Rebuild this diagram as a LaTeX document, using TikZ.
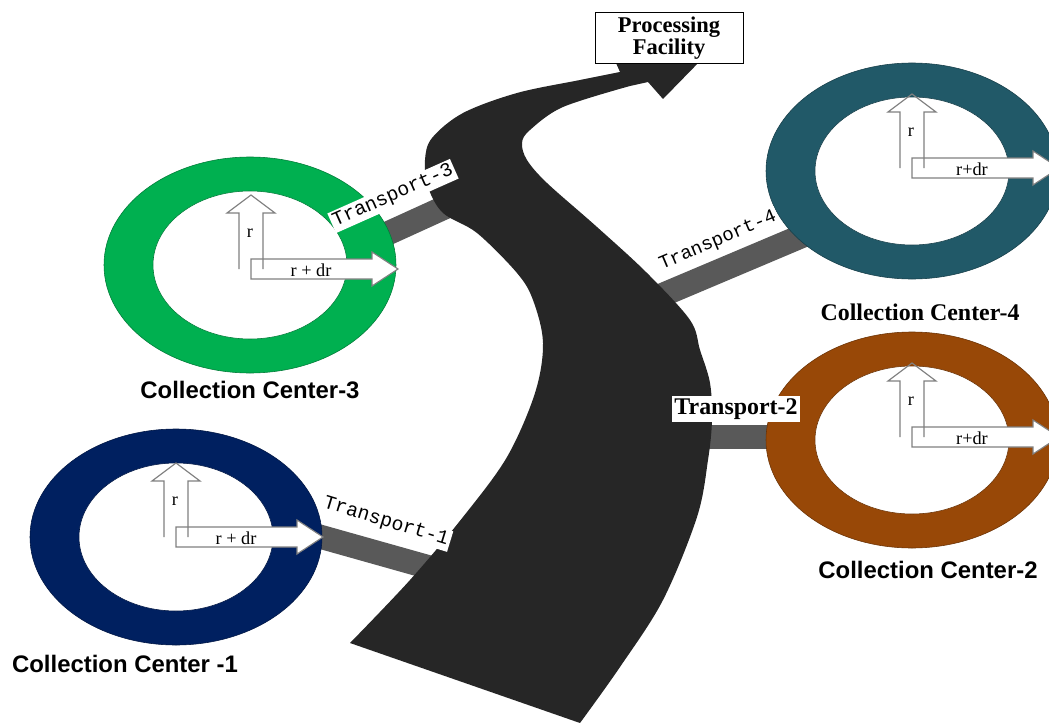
\documentclass[tikz,border=0pt]{standalone}
\usepackage{fontspec}
\setmainfont{Liberation Serif}
\setsansfont{Liberation Sans}
\setmonofont{Liberation Mono}
\usepackage{tikz}
\usetikzlibrary{positioning, shapes.geometric}

\definecolor{ccnavy}{HTML}{002060}
\definecolor{ccgreen}{HTML}{00B050}
\definecolor{ccteal}{HTML}{215968}
\definecolor{ccbrown}{HTML}{984807}
\definecolor{roadgray}{HTML}{262626}
\definecolor{bargray}{HTML}{595959}

\tikzset{
    ring/.style={ellipse, fill=#1, draw=#1!70!black, thin, minimum width=73mm, minimum height=54mm, inner sep=0pt},
    hole/.style={ellipse, fill=white, draw=#1!70!black, thin, minimum width=48.5mm, minimum height=37mm, inner sep=0pt},
    blockarrow/.style={draw=gray, thick, fill=white, line join=miter},
    rlabel/.style={font=\fontsize{13}{13}\selectfont, inner sep=0pt},
    bar/.style={draw=bargray, line width=6mm},
    tlabel/.style={fill=white, inner sep=1.5pt, font=\ttfamily\fontsize{14}{14}\selectfont},
    cclabel/.style={font=\sffamily\bfseries\fontsize{17}{17}\selectfont, inner sep=0pt}
}

\begin{document}
\begin{tikzpicture}[
        x=0.25mm, y=-0.25mm,
        % Styles
        road/.style  ={fill=roadgray},
        facility/.style={rectangle, draw=black, thin, fill=white, minimum width=37mm, minimum height=12.75mm, align=center, inner sep=0pt, font=\bfseries\fontsize{16}{16}\selectfont}
    ]
    \useasboundingbox (0,0) rectangle (1049,723);
    \clip (0,0) rectangle (1049,723);

    % Transport links (under road and rings)
    \coordinate (t1a) at (300,531);
    \coordinate (t1b) at (435,569);
    \coordinate (t2a) at (700,437);
    \coordinate (t2b) at (785,437);
    \coordinate (t3a) at (360,246);
    \coordinate (t3b) at (450,205);
    \coordinate (t4a) at (660,296);
    \coordinate (t4b) at (828,225);
    \draw[bar] (t1a) -- (t1b);
    \draw[bar] (t2a) -- (t2b);
    \draw[bar] (t3a) -- (t3b);
    \draw[bar] (t4a) -- (t4b);

    % Road to the facility
    \fill[road] plot[smooth, tension=0.55] coordinates {(350,643) (410,580) (463,517) (507,457) (535,393) (543,343) (533,300) (517,273) (477,233) (443,213) (428,187) (425,160) (432,138) (463,113) (517,93) (580,80) (620,72)}
        -- (616,63) -- (704,57) -- (663,99) -- (648,82)
        -- plot[smooth, tension=0.55] coordinates {(630,86) (563,107) (530,130) (522,143) (527,160) (547,183) (597,227) (647,273) (690,320) (700,350) (710,383) (712,420) (708,460) (697,517) (663,600) (620,667) (580,723)}
        -- cycle;

    % Collection centers
    \node[ring=ccnavy]  (cc1) at (176,537) {};
    \node[hole=ccnavy]  (cc1in) at (176,537) {};
    \node[ring=ccgreen] (cc3) at (250,265) {};
    \node[hole=ccgreen] (cc3in) at (250,265) {};
    \node[ring=ccteal]  (cc4) at (912,171) {};
    \node[hole=ccteal]  (cc4in) at (912,171) {};
    \node[ring=ccbrown] (cc2) at (912,440) {};
    \node[hole=ccbrown] (cc2in) at (912,440) {};

    % Radius arrows
    \foreach \ax/\ay/\rtxt [count=\i] in {176/537/{r + dr}, 251/269/{r + dr}, 912/168/{r+dr}, 912/437/{r+dr}} {
        \begin{scope}[shift={(\ax,\ay)}]
            \draw[blockarrow] (0,-10) -- (121,-10) -- (121,-17) -- (147,0) -- (121,17) -- (121,10) -- (0,10) -- cycle;
            \draw[blockarrow, fill=none] (-12,0) -- (-12,-56) -- (-24,-56) -- (0,-74) -- (24,-56) -- (12,-56) -- (12,0);
            \node[rlabel] (r\i) at (-1,-36) {r};
            \node[rlabel] (rdr\i) at (60,1) {\rtxt};
        \end{scope}
    }

    % Labels
    \node[cclabel, below=2.5mm of cc1, xshift=-12.75mm] (name1) {Collection Center -1};
    \node[cclabel, below=3.25mm of cc2, xshift=4mm] (name2) {Collection Center-2};
    \node[cclabel, below=2mm of cc3] (name3) {Collection Center-3};
    \node[cclabel, font=\rmfamily\bfseries\fontsize{17}{17}\selectfont, below=6mm of cc4, xshift=2mm] (name4) {Collection Center-4};

    \node[tlabel, rotate=-17] (tr1) at (386,522) {Transport-1};
    \node[tlabel, font=\bfseries\fontsize{17}{17}\selectfont] (tr2) at (736,409) {Transport-2};
    \node[tlabel, rotate=24] (tr3) at (393,196) {Transport-3};
    \node[tlabel, rotate=23, font=\ttfamily\fontsize{13.5}{13.5}\selectfont] (tr4) at (718,241) {Transport-4};

    % Processing Facility
    \node[facility] (pf) at (669,38) {Processing\\Facility};

\end{tikzpicture}
\end{document}
